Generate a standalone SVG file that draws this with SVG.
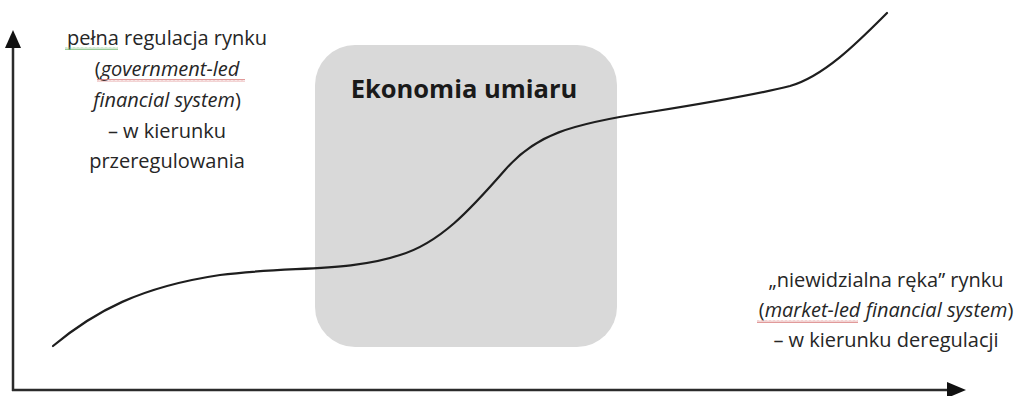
<svg xmlns="http://www.w3.org/2000/svg" width="1030" height="396" viewBox="0 0 1030 396">
  <style>
    .lbl { font-family: "Open Sans", "Liberation Sans", sans-serif; font-size: 20px; fill: #262626; text-anchor: middle; }
    .title { font-family: "Open Sans", "Liberation Sans", sans-serif; font-size: 25.5px; font-weight: bold; fill: #1a1a1a; text-anchor: middle; }
    .it { font-style: italic; }
    .axis { stroke: #2b2b2b; stroke-width: 2.5; fill: none; }
    .curve { stroke: #1e1e1e; stroke-width: 2.2; fill: none; stroke-linecap: round; }
    .head { fill: #111; }
  </style>
  <defs>
    <pattern id="wavyRed" width="4" height="3" patternUnits="userSpaceOnUse">
      <path d="M0,2.5 L1,0.5 L2,2.5 L3,0.5 L4,2.5" stroke="#d98080" stroke-width="0.8" fill="none"/>
    </pattern>
    <pattern id="wavyGreen" width="4" height="3" patternUnits="userSpaceOnUse">
      <path d="M0,2.5 L1,0.5 L2,2.5 L3,0.5 L4,2.5" stroke="#7fbf7f" stroke-width="0.8" fill="none"/>
    </pattern>
  </defs>
  <rect width="1030" height="396" fill="#ffffff"/>

  <g id="box-umiar">
    <rect x="315" y="45" width="302" height="302" rx="40" ry="40" fill="#d9d9d9"/>
    <text class="title" x="464" y="98">Ekonomia umiaru</text>
  </g>

  <g id="connectors">
    <line class="axis" x1="13" y1="391" x2="13" y2="46"/>
    <polygon class="head" points="13,30 5,48 21,48"/>
    <line class="axis" x1="12" y1="390" x2="950" y2="390"/>
    <polygon class="head" points="966,390 947,382 947,398"/>
    <path class="curve" d="M53,346 C95,311 140,287 220,275 C290,266 350,272 400,255 C440,243 470,210 505,170 C535,135 570,124 650,112 C700,104 750,96 790,86 C825,76 860,40 887,13"/>
  </g>

  <g id="label-regulation">
    <text class="lbl" x="167" y="45">pełna regulacja rynku</text>
    <text class="lbl" x="167" y="76">(<tspan class="it">government-led</tspan></text>
    <text class="lbl" x="167" y="107"><tspan class="it">financial system</tspan>)</text>
    <text class="lbl" x="167" y="138">– w kierunku</text>
    <text class="lbl" x="167" y="168">przeregulowania</text>
    <rect x="65" y="47" width="53" height="3" fill="url(#wavyGreen)"/>
    <rect x="97" y="79" width="148" height="3" fill="url(#wavyRed)"/>
  </g>

  <g id="label-deregulation">
    <text class="lbl" x="886" y="287">„niewidzialna ręka” rynku</text>
    <text class="lbl" x="886" y="317">(<tspan class="it">market-led</tspan> <tspan class="it">financial system</tspan>)</text>
    <text class="lbl" x="886" y="347">– w kierunku deregulacji</text>
    <rect x="757" y="320" width="101" height="3" fill="url(#wavyRed)"/>
  </g>
</svg>
